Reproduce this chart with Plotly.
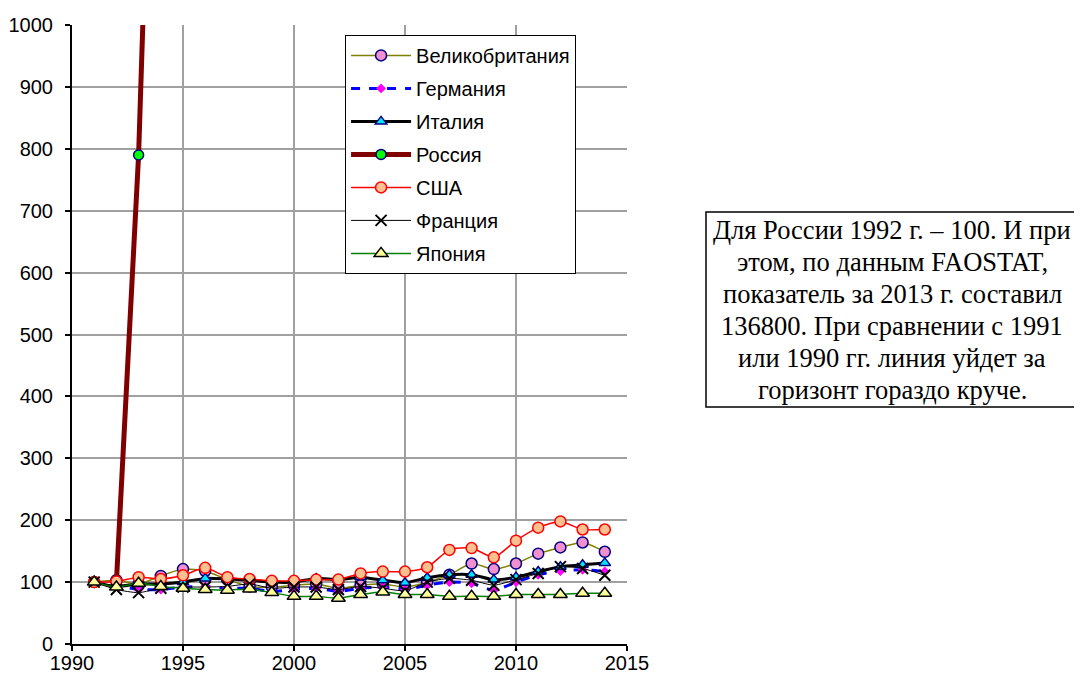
import plotly.graph_objects as go

years = list(range(1991, 2015))

uk = [100, 103, 97, 110, 121, 118, 104, 93, 92, 95, 97, 90, 95, 97, 92,
      100, 112, 130, 121, 130, 146, 156, 164, 149]
germany = [100, 95, 88, 88, 92, 93, 90, 90, 85, 88, 90, 85, 90, 92, 88,
           95, 100, 98, 87, 100, 112, 118, 120, 117]
italy = [100, 93, 97, 97, 100, 106, 105, 103, 100, 100, 106, 104, 108, 103, 99,
         107, 112, 112, 104, 108, 117, 125, 128, 131]
russia_years = [1992, 1993, 1994]
russia = [100, 790, 1900]
usa = [100, 101, 108, 105, 111, 123, 108, 105, 102, 102, 104, 104, 114, 117, 117,
       124, 152, 155, 140, 167, 188, 198, 185, 185]
france = [100, 88, 83, 90, 92, 92, 93, 97, 90, 92, 92, 88, 93, 90, 86,
          100, 106, 103, 95, 104, 114, 125, 122, 111]
japan = [100, 92, 98, 93, 90, 88, 87, 89, 83, 77, 77, 74, 80, 84, 80,
         80, 77, 77, 77, 80, 80, 80, 82, 82]

note_lines = [
    "Для России 1992 г. – 100. И при",
    "этом, по данным FAOSTAT,",
    "показатель за 2013 г. составил",
    "136800. При сравнении с 1991",
    "или 1990 гг. линия уйдет за",
    "горизонт гораздо круче.",
]

fig = go.Figure()

# series: name, x, y, line color, width, dash, marker symbol, fill, edge, size
series = [
    ("Великобритания", years, uk, "#808000", 1.5, "solid", "circle", "#F090D0", "#000080", 11),
    ("Германия", years, germany, "#0000FF", 3, "dash", "diamond", "#FF00FF", "#FF00FF", 6),
    ("Италия", years, italy, "#000000", 3, "solid", "triangle-up", "#00E5FF", "#000080", 10),
    ("Россия", russia_years, russia, "#800000", 5, "solid", "circle", "#00FF00", "#000080", 10),
    ("США", years, usa, "#FF0000", 1.5, "solid", "circle", "#FFC090", "#FF0000", 11),
    ("Франция", years, france, "#000000", 1, "solid", "x-thin", "#000000", "#000000", 11),
    ("Япония", years, japan, "#008000", 1.5, "solid", "triangle-up", "#FFFF99", "#000000", 12),
]

for name, xs, ys, lc, lw, dash, sym, fc, ec, ms in series:
    fig.add_trace(go.Scatter(
        x=xs, y=ys, name=name, mode="lines+markers", legendgroup=name,
        line=dict(color=lc, width=lw, dash=dash, shape="spline", smoothing=0.6),
        marker=dict(symbol=sym, size=ms, color=fc,
                    line=dict(color=ec, width=2 if sym == "x-thin" else 1.5)),
    ))

# page body has an 8px margin, so the figure is a bit smaller and shifted
fig.update_layout(
    width=1074, height=667,
    paper_bgcolor="white", plot_bgcolor="white",
    margin=dict(l=64, r=455, t=17, b=31),
    font=dict(family="Arial, Liberation Sans", size=20, color="black"),
    showlegend=True,
    legend=dict(
        x=0.492, y=0.984, xanchor="left", yanchor="top",
        bgcolor="white", bordercolor="black", borderwidth=1,
        font=dict(size=20), tracegroupgap=4, itemwidth=60,
    ),
)

fig.update_xaxes(
    range=[1990, 2015], dtick=5, tick0=1990, automargin=False,
    showgrid=True, gridcolor="#A0A0A0", gridwidth=1.5, zeroline=False,
    showline=True, linecolor="black", linewidth=2,
    ticks="outside", ticklen=5, tickcolor="black", tickwidth=1.5,
    ticklabelstandoff=-5,
)
fig.update_yaxes(
    range=[0, 1000], dtick=100, automargin=False,
    showgrid=True, gridcolor="#A0A0A0", gridwidth=1.5, zeroline=False,
    showline=True, linecolor="black", linewidth=2,
    ticks="outside", ticklen=5, tickcolor="black", tickwidth=1.5,
    ticklabelstandoff=8,
)

# note box on the right
fig.add_shape(type="rect", xref="paper", yref="paper",
              x0=(706 - 72) / 555, x1=(1078 - 72) / 555,
              y0=(644 - 407) / 619, y1=(644 - 212) / 619,
              line=dict(color="black", width=1.5), fillcolor="white")
for i, txt in enumerate(note_lines):
    fig.add_annotation(
        xref="paper", yref="paper", x=(892 - 72) / 555,
        y=(644 - (230 + i * 32)) / 619, xanchor="center", yanchor="middle",
        text=txt, showarrow=False,
        font=dict(family="Liberation Serif, Times New Roman", size=26.5, color="black"),
    )

fig.write_html("out.html")
